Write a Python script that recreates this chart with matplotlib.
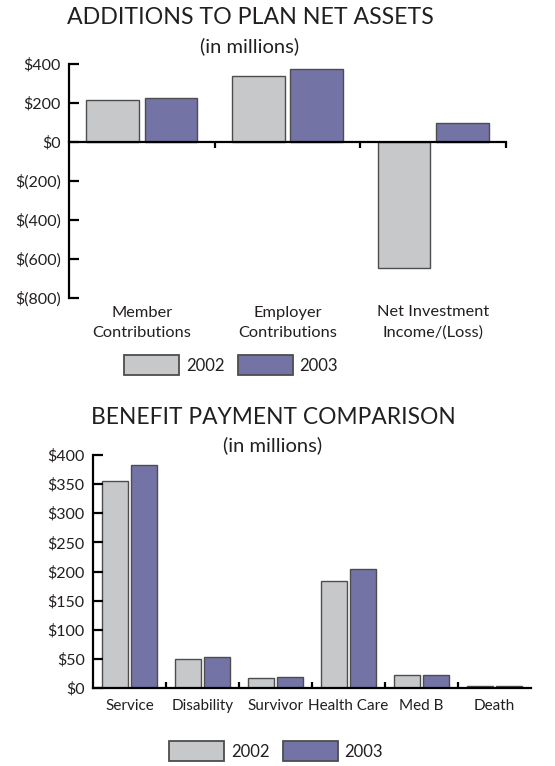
import matplotlib.pyplot as plt
import numpy as np
from matplotlib.patches import Patch

plt.rcParams['font.family'] = ['Lato', 'DejaVu Sans']

# top chart data (in millions)
add_categories = ["Member\nContributions", "Employer\nContributions", "Net Investment\nIncome/(Loss)"]
add_2002 = [215, 340, -648]
add_2003 = [227, 373, 96]
add_ticks = [400, 200, 0, -200, -400, -600, -800]
add_ticklabels = ["$400", "$200", "$0", "$(200)", "$(400)", "$(600)", "$(800)"]

# bottom chart data (in millions)
ben_categories = ["Service", "Disability", "Survivor", "Health Care", "Med B", "Death"]
ben_2002 = [356, 50, 18, 183, 23, 3]
ben_2003 = [383, 54, 19, 205, 23, 3]
ben_ticks = [0, 50, 100, 150, 200, 250, 300, 350, 400]

years = ["2002", "2003"]
grey = "#c7c8ca"
purple = "#7373a6"
edge = "#4d4d4d"
txt = "#231f20"

fig = plt.figure(figsize=(5.55, 7.66), dpi=100)

# ---------- top chart ----------
ax1 = fig.add_axes([69/555, 1-298/766, 437/555, 234/766])
x1 = np.arange(len(add_categories))
ax1.bar(x1 - 0.2, add_2002, width=0.36, color=grey, edgecolor=edge, linewidth=1)
ax1.bar(x1 + 0.2, add_2003, width=0.36, color=purple, edgecolor=edge, linewidth=1)
ax1.set_xlim(-0.5, len(add_categories) - 0.5)
ax1.set_ylim(-800, 400)
ax1.spines['top'].set_visible(False)
ax1.spines['right'].set_visible(False)
ax1.spines['bottom'].set_position(('data', 0))
ax1.spines['left'].set_linewidth(1.6)
ax1.spines['bottom'].set_linewidth(1.6)
ax1.set_yticks(add_ticks)
ax1.set_yticklabels(add_ticklabels, fontsize=11.5, color=txt)
ax1.tick_params(axis='y', direction='in', length=7, width=1.6, pad=6)
ax1.set_xticks(x1 + 0.5)
ax1.set_xticklabels([])
ax1.tick_params(axis='x', direction='out', length=4, width=1.6)
for i, c in enumerate(add_categories):
    ax1.text(i, -0.105, c, transform=ax1.get_xaxis_transform(), ha='center', va='center',
             fontsize=11.8, color=txt, linespacing=1.55)
fig.text(250/555, 1-18/766, "ADDITIONS TO PLAN NET ASSETS", ha='center', va='center',
         fontsize=16.7, color=txt)
fig.text(250/555, 1-46/766, "(in millions)", ha='center', va='center', fontsize=14.5, color=txt)

h = [Patch(facecolor=grey, edgecolor=edge, linewidth=1.3),
     Patch(facecolor=purple, edgecolor=edge, linewidth=1.3)]
fig.legend(h, years, loc='center', bbox_to_anchor=(231/555, 1-365/766), ncol=2, frameon=False,
           fontsize=12, handlelength=3.3, handleheight=1.4, handletextpad=0.4, columnspacing=0.8,
           labelcolor=txt)

# ---------- bottom chart ----------
ax2 = fig.add_axes([93/555, 1-688/766, 438/555, 233/766])
x2 = np.arange(len(ben_categories))
ax2.bar(x2 - 0.2, ben_2002, width=0.36, color=grey, edgecolor=edge, linewidth=1)
ax2.bar(x2 + 0.2, ben_2003, width=0.36, color=purple, edgecolor=edge, linewidth=1)
ax2.set_xlim(-0.5, len(ben_categories) - 0.5)
ax2.set_ylim(0, 400)
ax2.spines['top'].set_visible(False)
ax2.spines['right'].set_visible(False)
ax2.spines['left'].set_linewidth(1.6)
ax2.spines['bottom'].set_linewidth(1.6)
ax2.set_yticks(ben_ticks)
ax2.set_yticklabels(["$%d" % v for v in ben_ticks], fontsize=11.5, color=txt)
ax2.tick_params(axis='y', direction='in', length=7, width=1.6, pad=6)
ax2.set_xticks(x2)
ax2.set_xticklabels(ben_categories, fontsize=11, color=txt)
ax2.tick_params(axis='x', which='major', length=0, pad=8)
ax2.set_xticks(x2[:-1] + 0.5, minor=True)
ax2.tick_params(axis='x', which='minor', direction='in', length=4, width=1.6)
fig.text(273/555, 1-417/766, "BENEFIT PAYMENT COMPARISON", ha='center', va='center',
         fontsize=16.4, color=txt)
fig.text(273/555, 1-445/766, "(in millions)", ha='center', va='center', fontsize=14.5, color=txt)

fig.legend(h, years, loc='center', bbox_to_anchor=(276/555, 1-751/766), ncol=2, frameon=False,
           fontsize=12, handlelength=3.3, handleheight=1.4, handletextpad=0.4, columnspacing=0.8,
           labelcolor=txt)

fig.savefig("out.png", dpi=100)
